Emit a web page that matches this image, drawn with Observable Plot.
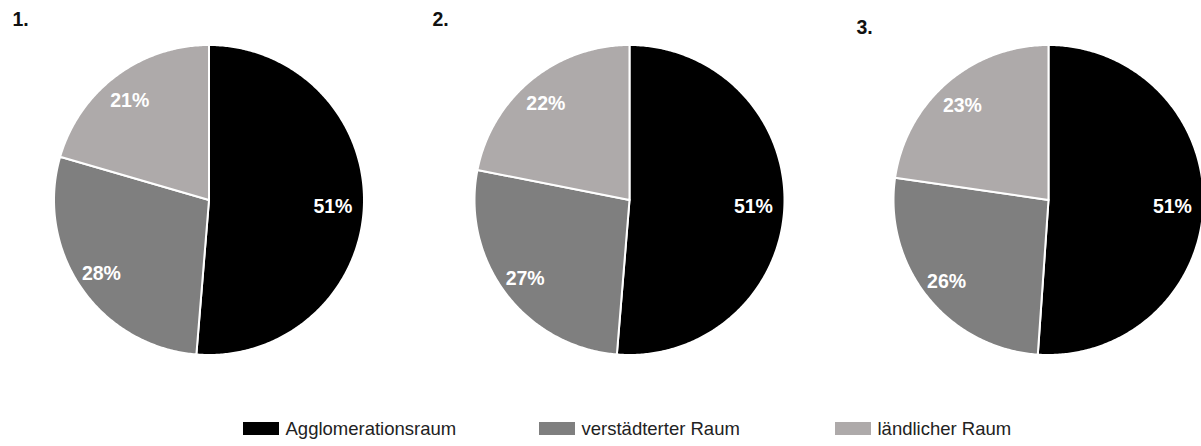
<!DOCTYPE html>
<html>
<head>
<meta charset="utf-8">
<script src="https://cdn.jsdelivr.net/npm/d3@7"></script>
<script src="https://cdn.jsdelivr.net/npm/@observablehq/plot@0.6"></script>
<style>
  html, body { margin: 0; padding: 0; background: #fff; }
  #chart svg { display: block; }
</style>
</head>
<body>
<div id="chart"></div>
<script>
// ---- data ----
const categories = ["Agglomerationsraum", "verstädterter Raum", "ländlicher Raum"];
const pieTitles = ["1.", "2.", "3."];
const pie1 = [51.3, 28.2, 20.5];
const pie2 = [51.3, 26.8, 21.9];
const pie3 = [51.1, 26.2, 22.7];
const colors = ["#000000", "#7f7f7f", "#aeaaaa"];

// ---- layout ----
const W = 1201, H = 446;
const centersX = [208.5, 629, 1048];
const centerY = 199.5;
const R = 155;
const labelR = 127;
const titlePos = [[12, 19], [432, 19], [856, 27]];
const legendX0 = 243, legendStep = 296, swatchW = 36;

const pies = [pie1, pie2, pie3];
const pts = [];
const labels = [];
pies.forEach((vals, p) => {
  const cx = centersX[p];
  const arcs = d3.pie().sort(null).value(d => d)(vals);
  arcs.forEach((a, i) => {
    const key = p + "-" + i;
    pts.push({key, cat: categories[i], x: cx, y: centerY});
    const n = Math.max(2, Math.ceil((a.endAngle - a.startAngle) / 0.01));
    for (let k = 0; k <= n; k++) {
      const t = a.startAngle + (a.endAngle - a.startAngle) * k / n;
      pts.push({key, cat: categories[i], x: cx + R * Math.sin(t), y: centerY - R * Math.cos(t)});
    }
    const m = (a.startAngle + a.endAngle) / 2;
    labels.push({x: cx - 3 + labelR * Math.sin(m), y: centerY + 2 - labelR * Math.cos(m), text: Math.round(vals[i]) + "%"});
  });
});

const chart = Plot.plot({
  width: W,
  height: H,
  margin: 0,
  style: {fontFamily: "'Liberation Sans', Arial, sans-serif", background: "#fff"},
  x: {domain: [0, W], axis: null},
  y: {domain: [H, 0], axis: null},
  color: {domain: categories, range: colors},
  marks: [
    Plot.line(pts, {x: "x", y: "y", z: "key", fill: "cat", stroke: "white", strokeWidth: 2, curve: "linear-closed"}),
    Plot.text(labels, {x: "x", y: "y", text: "text", fill: "white", fontWeight: "bold", fontSize: 19.5}),
    Plot.text(pieTitles, {x: (d, i) => titlePos[i][0], y: (d, i) => titlePos[i][1], text: d => d, textAnchor: "start", fontWeight: "bold", fontSize: 19.5, fill: "#111"}),
    Plot.rect(categories, {x1: (d, i) => legendX0 + i * legendStep, x2: (d, i) => legendX0 + i * legendStep + swatchW, y1: 422, y2: 435, fill: d => d}),
    Plot.text(categories, {x: (d, i) => legendX0 + i * legendStep + 42, y: 429, text: d => d, textAnchor: "start", fontSize: 18.5, fill: "#222"})
  ]
});
document.getElementById("chart").appendChild(chart);
</script>
</body>
</html>
